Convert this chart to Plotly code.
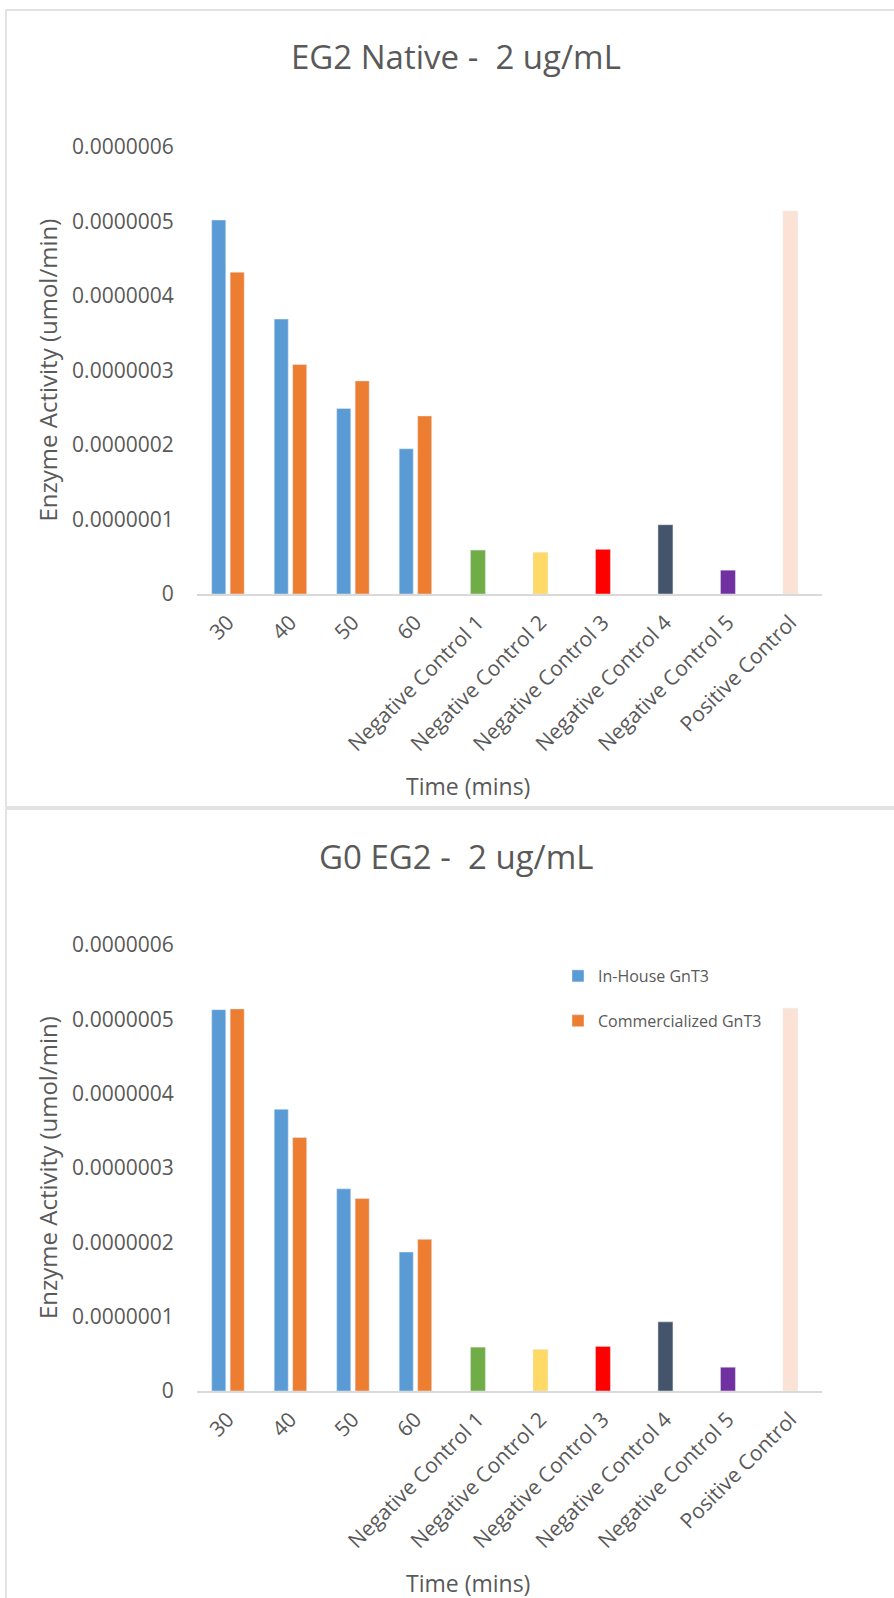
import plotly.graph_objects as go

# Categories on the x axis
categories = ["30", "40", "50", "60",
              "Negative Control 1", "Negative Control 2", "Negative Control 3",
              "Negative Control 4", "Negative Control 5", "Positive Control"]
time_points = categories[:4]
control_labels = categories[4:]

# EG2 Native - 2 ug/mL
native_in_house = [5.02e-7, 3.69e-7, 2.49e-7, 1.95e-7]
native_commercial = [4.32e-7, 3.08e-7, 2.86e-7, 2.39e-7]
native_controls = [0.59e-7, 0.56e-7, 0.60e-7, 0.93e-7, 0.32e-7, 5.14e-7]

# G0 EG2 - 2 ug/mL
g0_in_house = [5.13e-7, 3.79e-7, 2.72e-7, 1.87e-7]
g0_commercial = [5.14e-7, 3.41e-7, 2.59e-7, 2.04e-7]
g0_controls = [0.59e-7, 0.56e-7, 0.60e-7, 0.93e-7, 0.32e-7, 5.15e-7]

series_names = ["In-House GnT3", "Commercialized GnT3"]
chart_titles = ["EG2 Native -  2 ug/mL", "G0 EG2 -  2 ug/mL"]
x_title = "Time (mins)"
y_title = "Enzyme Activity (umol/min)"

y_tick_values = [0, 1e-7, 2e-7, 3e-7, 4e-7, 5e-7, 6e-7]
y_tick_labels = ["0", "0.0000001", "0.0000002", "0.0000003",
                 "0.0000004", "0.0000005", "0.0000006"]

# Styling
BLUE, ORANGE = "#5b9bd5", "#ed7d31"
control_colors = ["#70ad47", "#ffd966", "#ff0000", "#44546a", "#7030a0", "#fae3d5"]
TEXT = "#595959"
FONT = "Open Sans"
W, H = 894, 1598


def px_x(x):
    return x / W


def px_y(y):
    return 1 - y / H


fig = go.Figure()

panels = [
    dict(inh=native_in_house, com=native_commercial, ctl=native_controls,
         base=594, top=147, title_y=56, legend=False),
    dict(inh=g0_in_house, com=g0_commercial, ctl=g0_controls,
         base=1391, top=945, title_y=856, legend=True),
]

annotations = []
for i, p in enumerate(panels):
    xa = "x" if i == 0 else "x2"
    ya = "y" if i == 0 else "y2"
    fig.add_trace(go.Bar(
        x=time_points, y=p["inh"], name=series_names[0], xaxis=xa, yaxis=ya,
        marker_color=BLUE, width=0.225, offset=-0.26,
        showlegend=p["legend"], legendgroup="inhouse"))
    fig.add_trace(go.Bar(
        x=time_points, y=p["com"], name=series_names[1], xaxis=xa, yaxis=ya,
        marker_color=ORANGE, width=0.225, offset=0.035,
        showlegend=p["legend"], legendgroup="commercial"))
    fig.add_trace(go.Bar(
        x=control_labels, y=p["ctl"], xaxis=xa, yaxis=ya,
        marker_color=control_colors, width=0.24, offset=-0.12,
        showlegend=False))

    dom_y = [px_y(p["base"]), px_y(p["top"])]
    xkey = "xaxis" if i == 0 else "xaxis2"
    ykey = "yaxis" if i == 0 else "yaxis2"
    fig.update_layout(**{
        xkey: dict(domain=[px_x(196.7), px_x(821.7)], anchor=ya, type="category",
                   categoryorder="array", categoryarray=categories,
                   range=[-0.5, 9.5], showgrid=False, zeroline=False,
                   showline=True, linecolor="#d9d9d9", linewidth=2,
                   ticks="", tickangle=-45, ticklabelstandoff=6, automargin=False,
                   tickfont=dict(family=FONT, size=21, color=TEXT)),
        ykey: dict(domain=dom_y, anchor=xa, range=[0, 6e-7],
                   tickvals=y_tick_values, ticktext=y_tick_labels,
                   showgrid=False, zeroline=False, showline=False, ticks="",
                   ticklabelstandoff=22, automargin=False,
                   tickfont=dict(family=FONT, size=21, color=TEXT)),
    })

    annotations.append(dict(text=chart_titles[i], x=px_x(456), y=px_y(p["title_y"]),
                            xref="paper", yref="paper", showarrow=False,
                            xanchor="center", yanchor="middle",
                            font=dict(family=FONT, size=33, color=TEXT)))
    annotations.append(dict(text=y_title, x=px_x(47), y=px_y((p["base"] + p["top"]) / 2),
                            xref="paper", yref="paper", showarrow=False,
                            textangle=-90, xanchor="center", yanchor="middle",
                            font=dict(family=FONT, size=24, color=TEXT)))
    annotations.append(dict(text=x_title, x=px_x(468), y=px_y(p["base"] + 192),
                            xref="paper", yref="paper", showarrow=False,
                            xanchor="center", yanchor="middle",
                            font=dict(family=FONT, size=23, color=TEXT)))

# Chart area borders around each panel
border = dict(color="#d9d9d9", width=1.5)
shapes = [
    dict(type="rect", xref="paper", yref="paper", x0=px_x(6), x1=1.02,
         y0=px_y(807), y1=px_y(10), line=border, layer="below"),
    dict(type="rect", xref="paper", yref="paper", x0=px_x(6), x1=1.02,
         y0=-0.02, y1=px_y(809), line=border, layer="below"),
]

fig.update_layout(
    width=W, height=H, margin=dict(l=0, r=0, t=0, b=0, autoexpand=False),
    paper_bgcolor="white", plot_bgcolor="white",
    barmode="overlay", annotations=annotations, shapes=shapes,
    legend=dict(x=px_x(558), y=px_y(959), xanchor="left", yanchor="top",
                bgcolor="white", tracegroupgap=21,
                font=dict(family=FONT, size=16, color=TEXT)),
)

fig.write_html("out.html")
